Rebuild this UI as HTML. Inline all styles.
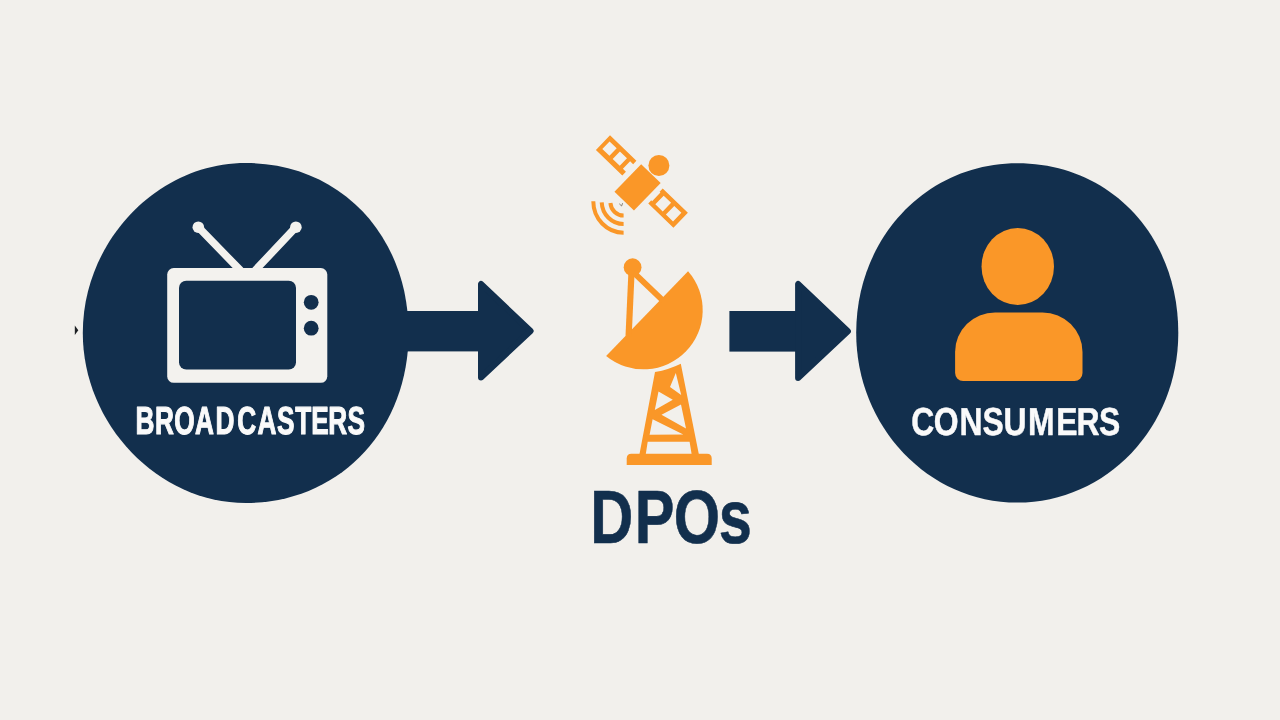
<!DOCTYPE html>
<html>
<head>
<meta charset="utf-8">
<title>Broadcasters - DPOs - Consumers</title>
<style>
  html, body { margin: 0; padding: 0; background: #f2f0ec; }
  body { width: 1280px; height: 720px; overflow: hidden; font-family: "Liberation Sans", sans-serif; }
  svg { display: block; }
  text { font-family: "Liberation Sans", sans-serif; font-weight: bold; -webkit-font-smoothing: antialiased; text-rendering: geometricPrecision; }
</style>
</head>
<body>
<svg width="1280" height="720" viewBox="0 0 1280 720">
  <defs><filter id="gs" x="-5%" y="-20%" width="110%" height="140%" color-interpolation-filters="sRGB"><feOffset dx="0" dy="0"/></filter></defs>
  <rect x="0" y="0" width="1280" height="720" fill="#f2f0ec"/>

  <!-- tiny stray mark left of the first circle -->
  <path d="M74.8 325.5 L78.3 330.3 L74.8 335 Z" fill="#1e2024"/>

  <!-- LEFT CIRCLE + ARROW -->
  <g fill="#122f4d">
    <path d="M245.70 163.00 C339.73 163.00 408.60 234.87 408.60 333.00 C408.60 430.36 338.99 503.00 245.70 503.00 C158.13 503.00 82.80 424.39 82.80 333.00 C82.80 241.04 157.58 163.00 245.70 163.00 Z"/>
    <rect x="400" y="311" width="80" height="40.4"/>
    <path d="M481 284 L481 377.5 L530.6 331 Z" stroke="#122f4d" stroke-width="6" stroke-linejoin="round"/>
  </g>

  <!-- TV ICON -->
  <g>
    <g stroke="#f3f2ee" stroke-width="7.6" stroke-linecap="round">
      <line x1="198.3" y1="227.2" x2="240" y2="270"/>
      <line x1="295.9" y1="227.2" x2="255.5" y2="270"/>
    </g>
    <circle cx="198.3" cy="227.2" r="5.8" fill="#f3f2ee"/>
    <circle cx="295.9" cy="227.2" r="5.8" fill="#f3f2ee"/>
    <rect x="167.2" y="268" width="160.1" height="114.8" rx="6.5" ry="6.5" fill="#f3f2ee"/>
    <rect x="179" y="280.7" width="117" height="88.9" rx="7.3" ry="7.3" fill="#122f4d"/>
    <circle cx="311.2" cy="302.3" r="7.4" fill="#122f4d"/>
    <circle cx="311.2" cy="328.2" r="7.4" fill="#122f4d"/>
  </g>

  <text filter="url(#gs)" transform="translate(135.4 434.1) scale(0.672 1)" font-size="39" fill="#fafafa" stroke="#fafafa" stroke-width="1.15" stroke-linejoin="round" x="0.01 28.99 57.77 88.85 119.29 151.65 181.56 210.78 237.78 261.60 287.10 315.77">BROADCASTERS</text>

  <!-- SATELLITE -->
  <g transform="translate(637.5 186.8) rotate(44)" fill="#fa9728">
    <rect x="-13.1" y="-18.85" width="27.1" height="38.45"/>
    <path fill-rule="evenodd" d="M-55.5 -17.9 H-18.8 V-13.2 H-23 V-2.8 H-18.8 V2.4 H-55.5 Z M-51.6 -13.2 H-41.7 V-2.8 H-51.6 Z M-37.2 -13.2 H-27.4 V-2.8 H-37.2 Z"/>
    <path fill-rule="evenodd" d="M19.3 -16.3 H54.3 V4.5 H19.3 V0.2 H20.5 V-11.8 H19.3 Z M25 -11.8 H35.3 V0.2 H25 Z M39.7 -11.8 H49.6 V0.2 H39.7 Z"/>
  </g>
  <circle cx="658.9" cy="165.5" r="10.5" fill="#fa9728"/>

  <!-- signal arcs -->
  <g fill="none" stroke="#fa9728" stroke-width="4">
    <path d="M593.3 201.3 A30.3 31.4 0 0 0 623.6 232.7"/>
    <path d="M601.7 202.3 A21.9 22.7 0 0 0 623.6 224"/>
    <path d="M610.4 203 A13.2 13.8 0 0 0 623.6 215.6"/>
  </g>
  <path d="M619.3 203.8 L621.6 206 L622.6 203.2" fill="none" stroke="#6b6357" stroke-width="0.8"/>

  <!-- DISH -->
  <g fill="#fa9728" stroke="none">
    <path d="M606.13 355.90 A59.1 59.1 0 0 0 688.06 271.26 Z"/>
    <circle cx="632.6" cy="267.2" r="8.9"/>
  </g>
  <g stroke="#fa9728" fill="none" stroke-linecap="butt">
    <line x1="631.6" y1="270" x2="628.6" y2="336" stroke-width="6.2"/>
    <line x1="634" y1="272.8" x2="663" y2="300.6" stroke-width="5.8"/>
  </g>

  <!-- TOWER -->
  <g fill="#fa9728">
    <path fill-rule="evenodd" d="M655 372.1 Q669 369.6 680.8 363.75 L698.8 454 L639.5 454 Z
      M675.8 372.9 L670 386.9 L681.2 395 Z
      M658.5 391.5 L672.8 399.7 L654.8 410 Z
      M681 404.5 L661.5 414.8 L686 428.5 Z
      M652.6 419.2 L683.3 434.5 L649.6 434.7 Z
      M647.7 441.7 L689.6 441.7 L691.6 454 L645.8 454 Z"/>
    <path d="M626.7 465 L626.7 458.5 Q626.7 453.8 631.4 453.8 L707 453.8 Q711.7 453.8 711.7 458.5 L711.7 465 Z"/>
  </g>

  <text filter="url(#gs)" transform="translate(588.9 542.8) scale(0.789 1)" font-size="75.5" fill="#122f4d" stroke="#122f4d" stroke-width="0.6" stroke-linejoin="round" x="1.58 58.12 107.62 164.71">DPOs</text>

  <!-- RIGHT ARROW + CIRCLE -->
  <g fill="#122f4d">
    <rect x="729.4" y="311" width="68" height="40.6"/>
    <path d="M798.1 284 L798.1 378 L847.9 331.3 Z" stroke="#122f4d" stroke-width="6" stroke-linejoin="round"/>
    <path d="M1017.25 163.30 C1109.87 163.30 1178.30 235.36 1178.30 332.90 C1178.30 427.15 1106.75 502.50 1017.25 502.50 C928.30 502.50 856.20 426.57 856.20 332.90 C856.20 237.68 926.83 163.30 1017.25 163.30 Z"/>
  </g>

  <!-- PERSON -->
  <g fill="#fa9728">
    <ellipse cx="1017.75" cy="266.5" rx="36.25" ry="38.5"/>
    <path d="M955.1 352 A40 39.6 0 0 1 995.1 312.4 L1042.5 312.4 A40 39.6 0 0 1 1082.5 352 L1082.5 373 A8 8 0 0 1 1074.5 381 L963.1 381 A8 8 0 0 1 955.1 373 Z"/>
  </g>

  <text filter="url(#gs)" transform="translate(911.45 434.7) scale(0.8176 1)" font-size="39" fill="#fafafa" stroke="#fafafa" stroke-width="0.5" stroke-linejoin="round" x="-0.34 27.29 58.64 86.81 112.53 142.60 177.20 201.87 229.30">CONSUMERS</text>
</svg>
</body>
</html>
